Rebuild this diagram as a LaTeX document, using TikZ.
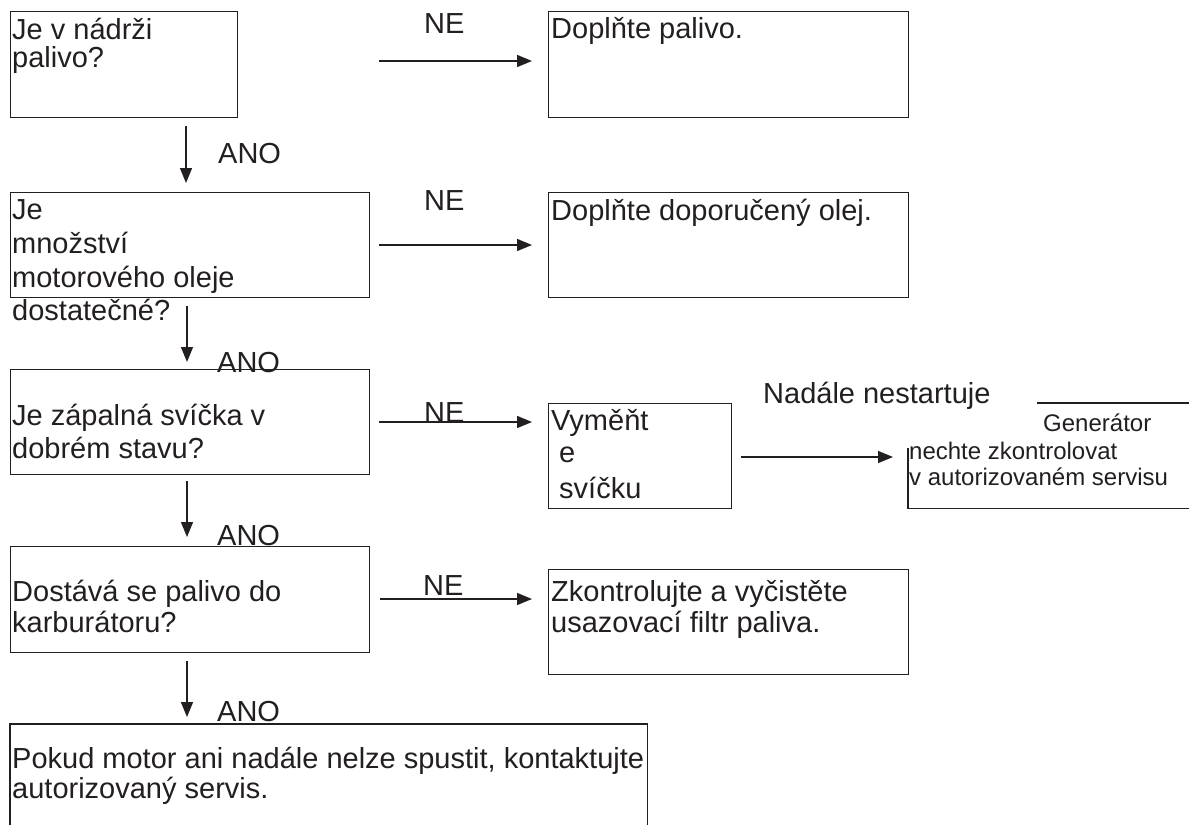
\documentclass[tikz,border=0pt]{standalone}
\usepackage{fontspec}
\setmainfont{Liberation Sans}
\usetikzlibrary{arrows.meta}
\definecolor{ink}{RGB}{35,31,32}
\begin{document}
\begin{tikzpicture}[x=1pt,y=-1pt,
  box/.style={draw=ink, line width=1.4pt, rectangle, inner sep=0pt, anchor=north west},
  openbox/.style={rectangle, inner sep=0pt, anchor=north west},
  txt/.style={inner sep=0pt, anchor=base west, text=ink, font=\fontsize{29}{30}\selectfont},
  smalltxt/.style={inner sep=0pt, anchor=base west, text=ink, font=\fontsize{24}{26}\selectfont},
  arr/.style={draw=ink, line width=1.4pt, -{Triangle[length=15pt,width=12pt]}},
  seg/.style={draw=ink, line width=1.4pt}]
\useasboundingbox (0,0) rectangle (1189,825);
\fill[white] (0,0) rectangle (1189,825);

% boxes
\node[box, minimum width=227pt, minimum height=106pt] (b1) at (10,11) {};
\node[box, minimum width=360pt, minimum height=106pt] (b2) at (548,11) {};
\node[box, minimum width=359pt, minimum height=105pt] (b3) at (10,192) {};
\node[box, minimum width=360pt, minimum height=105pt] (b4) at (548,192) {};
\node[box, minimum width=359pt, minimum height=105pt] (b5) at (10,369) {};
\node[box, minimum width=183pt, minimum height=105pt] (b6) at (548,403) {};
\node[openbox, minimum width=281pt, minimum height=105pt] (b7) at (908,403) {};
\node[box, minimum width=359pt, minimum height=106pt] (b8) at (10,546) {};
\node[box, minimum width=360pt, minimum height=105pt] (b9) at (548,569) {};
\node[openbox, minimum width=637pt, minimum height=101pt] (b10) at (10,724) {};

% open boxes
\draw[seg] ([xshift=129pt]b7.north west) -- (b7.north east);
\draw[seg] ([yshift=-45pt]b7.north west) -- (b7.south west) -- (b7.south east);
\draw[seg] (b10.south west) -- (b10.north west) -- (b10.north east) -- (b10.south east);

% box texts
\node[txt] (t1a) at (12,39) {Je v nádrži};
\node[txt] (t1b) at (12,67) {palivo?};
\node[txt] (t2) at (551,38) {Doplňte palivo.};
\node[txt] (t3a) at (12,219) {Je};
\node[txt] (t3b) at (12,253) {množství};
\node[txt] (t3c) at (12,287) {motorového oleje};
\node[txt] (t3d) at (12,320) {dostatečné?};
\node[txt] (t4) at (551,220) {Doplňte doporučený olej.};
\node[txt] (t5a) at (12,425) {Je zápalná svíčka v};
\node[txt] (t5b) at (12,458) {dobrém stavu?};
\node[txt] (t6a) at (551,430) {Vyměňt};
\node[txt] (t6b) at (559,462) {e};
\node[txt] (t6c) at (559,498) {svíčku};
\node[txt] (t7n) at (763,403) {Nadále nestartuje};
\node[smalltxt] (t7a) at (1043,431) {Generátor};
\node[smalltxt] (t7b) at (909,459) {nechte zkontrolovat};
\node[smalltxt] (t7c) at (909,485) {v autorizovaném servisu};
\node[txt] (t8a) at (12,601) {Dostává se palivo do};
\node[txt] (t8b) at (12,632) {karburátoru?};
\node[txt] (t9a) at (551,601) {Zkontrolujte a vyčistěte};
\node[txt] (t9b) at (551,632) {usazovací filtr paliva.};
\node[txt] (t10a) at (12,768) {Pokud motor ani nadále nelze spustit, kontaktujte};
\node[txt] (t10b) at (12,798) {autorizovaný servis.};

% labels
\node[txt] (ne1) at (424,33) {NE};
\node[txt] (ne2) at (424,210) {NE};
\node[txt] (ne3) at (424,422) {NE};
\node[txt] (ne4) at (423,595) {NE};
\node[txt] (ano1) at (218,163) {ANO};
\node[txt] (ano2) at (217,372) {ANO};
\node[txt] (ano3) at (217,545) {ANO};
\node[txt] (ano4) at (217,721) {ANO};

% vertical arrows (ANO)
\draw[arr] ([xshift=176pt,yshift=-8pt]b1.south west) -- ([xshift=176pt,yshift=9pt]b3.north west);
\draw[arr] ([xshift=177pt,yshift=-8pt]b3.south west) -- ([xshift=177pt,yshift=7pt]b5.north west);
\draw[arr] ([xshift=177pt,yshift=-6pt]b5.south west) -- ([xshift=177pt,yshift=9pt]b8.north west);
\draw[arr] ([xshift=177pt,yshift=-8pt]b8.south west) -- ([xshift=177pt,yshift=7pt]b10.north west);

% horizontal arrows (NE)
\draw[arr] ([xshift=141pt,yshift=-50pt]b1.north east) -- ([xshift=-16pt,yshift=-50pt]b2.north west);
\draw[arr] ([xshift=9pt,yshift=-53pt]b3.north east) -- ([xshift=-16pt,yshift=-53pt]b4.north west);
\draw[arr] ([xshift=9pt,yshift=-53pt]b5.north east) -- ([xshift=-16pt,yshift=-19pt]b6.north west);
\draw[arr] ([xshift=10pt,yshift=-53pt]b8.north east) -- ([xshift=-16pt,yshift=-30pt]b9.north west);
\draw[arr] ([xshift=9pt,yshift=-54pt]b6.north east) -- ([xshift=-15pt,yshift=-54pt]b7.north west);
\end{tikzpicture}
\end{document}
